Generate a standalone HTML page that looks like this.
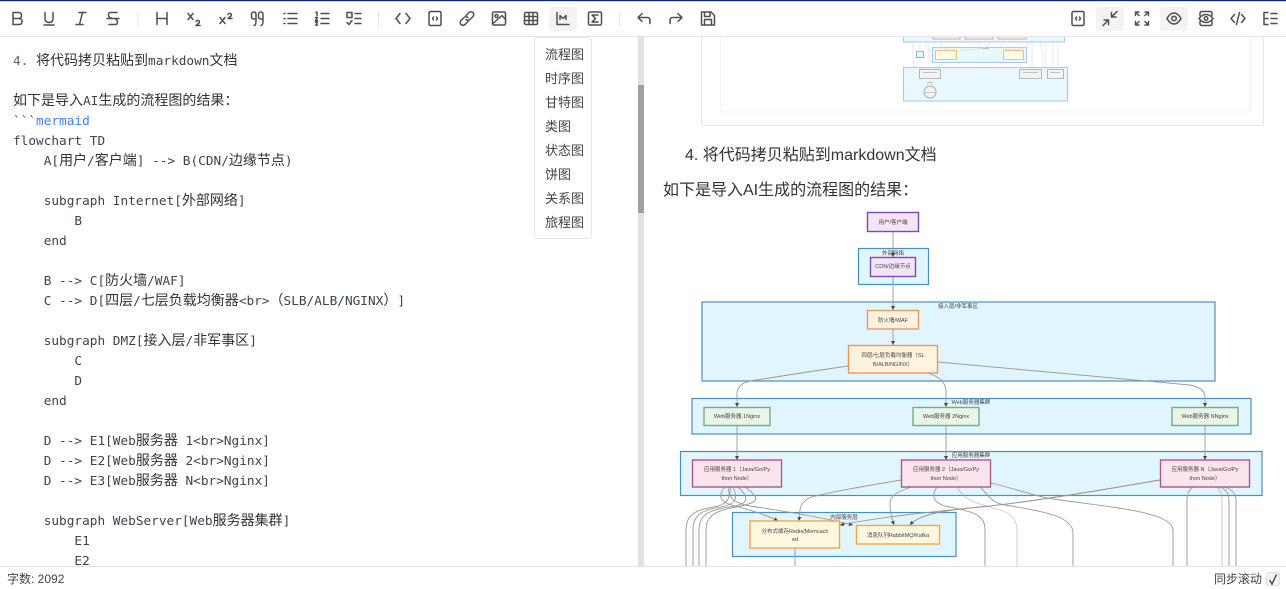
<!DOCTYPE html>
<html lang="zh"><head><meta charset="utf-8"><title>Markdown Editor</title>
<style>
html,body{margin:0;padding:0;background:#fff}
body{position:relative;width:1286px;height:589px;overflow:hidden;font-family:"Liberation Sans","Noto Sans CJK SC",sans-serif;color:#333}
.l{position:absolute;left:13px;height:20px;line-height:20px;white-space:pre;font-family:"DejaVu Sans Mono","Liberation Mono","Noto Sans CJK SC",monospace;font-size:12.75px;color:#3b4450;text-spacing-trim:space-all}
.l b{font-weight:400;font-size:14px;font-family:"Noto Sans CJK SC",sans-serif;color:#333}
.l b.w{display:inline-block;width:14px}
.l i{font-style:normal;color:#3b82f6}
.m{position:absolute;left:545px;font-size:13px;line-height:18px;color:#444}
.p{position:absolute;font-size:16px;line-height:22px;color:#333;white-space:pre}
svg{position:absolute;left:0;top:0}
svg text{font-family:"Liberation Sans","Noto Sans CJK SC",sans-serif;font-size:5.5px;fill:#444;text-anchor:middle}
.ic *{fill:none;stroke:#4f4f4f;stroke-width:1.5;stroke-linecap:round;stroke-linejoin:round}
.e path{fill:none;stroke:#999;stroke-width:.9}
.ar path{marker-end:url(#a)}
.cl{fill:#e1f5fe;stroke:#4a8fc0;stroke-width:1.2}
.n rect{stroke-width:1.4}
</style></head><body>

<div class="l" style="top:50px"><span style="color:#4a6785">4.</span> <b>将代码拷贝粘贴到</b>markdown<b>文档</b></div>
<div class="l" style="top:90px"><b>如下是导入</b>AI<b>生成的流程图的结果：</b></div>
<div class="l" style="top:112px">&#96;&#96;&#96;<i>mermaid</i></div>
<div class="l" style="top:132px">flowchart TD</div>
<div class="l" style="top:150px">    A[<b>用户</b>/<b>客户端</b>] --&gt; B(CDN/<b>边缘节点</b>)</div>
<div class="l" style="top:190px">    subgraph Internet[<b>外部网络</b>]</div>
<div class="l" style="top:212px">        B</div>
<div class="l" style="top:232px">    end</div>
<div class="l" style="top:270px">    B --&gt; C[<b>防火墙</b>/WAF]</div>
<div class="l" style="top:290px">    C --&gt; D[<b>四层</b>/<b>七层负载均衡器</b>&lt;br&gt;<b class="w">（</b>SLB/ALB/NGINX<b class="w">）</b>]</div>
<div class="l" style="top:330px">    subgraph DMZ[<b>接入层</b>/<b>非军事区</b>]</div>
<div class="l" style="top:352px">        C</div>
<div class="l" style="top:372px">        D</div>
<div class="l" style="top:392px">    end</div>
<div class="l" style="top:430px">    D --&gt; E1[Web<b>服务器</b> 1&lt;br&gt;Nginx]</div>
<div class="l" style="top:450px">    D --&gt; E2[Web<b>服务器</b> 2&lt;br&gt;Nginx]</div>
<div class="l" style="top:470px">    D --&gt; E3[Web<b>服务器</b> N&lt;br&gt;Nginx]</div>
<div class="l" style="top:510px">    subgraph WebServer[Web<b>服务器集群</b>]</div>
<div class="l" style="top:532px">        E1</div>
<div class="l" style="top:552px">        E2</div>

<div class="p" style="left:685px;top:145px">4. 将代码拷贝粘贴到markdown文档</div>
<div class="p" style="left:663px;top:180px">如下是导入AI生成的流程图的结果：</div>

<svg width="1286" height="589" viewBox="0 0 1286 589">
<defs><marker id="a" markerWidth="5" markerHeight="5" refX="4" refY="2" orient="auto" markerUnits="userSpaceOnUse"><path d="M0,0L4,2L0,4Z" fill="#444"/></marker></defs>

<!-- thumbnail at top of preview -->
<rect x="701.500" y="20" width="562" height="105.500" rx="3" fill="none" stroke="#e6e6e6"/>
<rect x="720.500" y="20" width="530" height="92" rx="3" fill="none" stroke="#f2f2f2"/>
<g opacity=".7">
<rect x="903.500" y="30" width="161" height="12" fill="#e1f5fe" stroke="#7db8dc"/>
<rect x="933" y="30" width="27" height="9" fill="#fce4ec" stroke="#c47fa8"/><rect x="965" y="30" width="28" height="9" fill="#fce4ec" stroke="#c47fa8"/><rect x="998" y="30" width="28" height="9" fill="#fce4ec" stroke="#c47fa8"/>
<rect x="932.500" y="47.500" width="94" height="15" fill="#e1f5fe" stroke="#7db8dc"/>
<rect x="935.500" y="50.500" width="21" height="9" fill="#fff8e1" stroke="#f5a54a"/><rect x="1003.500" y="50.500" width="20" height="9" fill="#fff8e1" stroke="#f5a54a"/>
<rect x="916.500" y="51.500" width="7" height="6" fill="#e1f5fe" stroke="#5c9fcc"/>
<rect x="903.500" y="67.500" width="164" height="33.500" fill="#e1f5fe" stroke="#7db8dc"/>
<rect x="919.500" y="69.500" width="21" height="9" fill="#eee" stroke="#999"/><rect x="1019.500" y="69.500" width="22" height="9" fill="#eee" stroke="#999"/><rect x="1047.500" y="69.500" width="16" height="9" fill="#eee" stroke="#999"/>
<ellipse cx="930" cy="92" rx="6" ry="6" fill="#eee" stroke="#888"/>
<g fill="none" stroke="#ccc" stroke-width=".6"><path d="M913,42V62Q913,68 925,69M920,42V50M926,42V46Q926,50 936,50M929,42V69M940,42Q942,50 950,50M952,42V50M990,42V44Q985,50 960,50M1000,42Q1002,50 1012,50M1028,42V46Q1020,50 1010,50M1032,42V69M1040,42Q1043,50 1043,69M1046,42V69M1053,42V69M1058,42V69M930,78V86"/></g>
<g fill="#aaa"><rect x="923" y="72" width="14" height="1"/><rect x="1023" y="72" width="15" height="1"/><rect x="1050" y="72" width="10" height="1"/><rect x="925" y="92" width="10" height="1"/><rect x="982" y="48" width="7" height="1"/><rect x="927" y="82" width="6" height="1"/><rect x="983" y="67" width="4" height="1"/></g>
</g>

<!-- main flowchart -->
<rect class="cl" x="858.500" y="248.500" width="70" height="36"/>
<rect class="cl" x="702" y="302" width="513" height="79"/>
<rect class="cl" x="692" y="398.500" width="559" height="35.500"/>
<rect class="cl" x="680.500" y="451.500" width="581.500" height="44"/>
<rect class="cl" x="732.500" y="512.500" width="223.500" height="44"/>

<g class="e">
<g class="ar">
<path d="M893,231V257"/><path d="M893,276V310"/><path d="M893,329V345"/>
<path d="M848,366C800,373 770,378 750,381Q737,384 737,394V407"/>
<path d="M927,373Q946,378 946,392V407"/>
<path d="M938,362C1050,372 1130,380 1190,385Q1205,388 1205,397V407"/>
<path d="M737,425V460"/><path d="M946,425V460"/><path d="M1205,425V460"/>
<path d="M725,487C716,497 722,503 735,506C750,510 768,515 778,521"/>
<path d="M731,487C727,499 735,503 750,506C790,512 825,518 853,525"/>
<path d="M901,480C860,487 830,492 812,497Q801,501 800,510L799,521"/>
<path d="M912,487Q890,493 890,503Q890,513 894,525"/>
<path d="M1160,480C1090,492 1030,502 980,507C930,512 880,517 840,525"/>
<path d="M1160,480C1090,492 1030,502 980,507C950,510 920,513 910,525"/>
</g>
<path d="M745,487C756,495 762,501 745,505C725,510 706,510 706,530V566"/>
<path d="M738,487C750,498 748,503 735,506C712,510 699,512 699,530V566"/>
<path d="M733,487C738,498 736,503 725,506C705,510 693,512 693,530V566"/>
<path d="M728,487C731,498 728,503 718,506C698,510 686,512 686,530V566"/>
<path d="M937,487C930,497 935,503 945,506C975,512 985,515 985,530V566"/>
<path d="M957,487C965,503 985,505 1000,510Q1017,515 1017,530V566" stroke-opacity=".5"/>
<path d="M980,487C990,497 992,503 1005,505C1050,512 1073,518 1073,533V566"/>
<path d="M991,483C1020,490 1040,498 1060,500C1110,507 1173,512 1173,530V566"/>
<path d="M1193,487Q1187,491 1187,500V566"/>
<path d="M1217,487Q1222,491 1222,500V566" stroke-opacity=".6"/>
<path d="M1220,487Q1229,491 1229,500V566"/>
<path d="M1225,487Q1236,491 1236,500V566"/>
<path d="M795,548V566"/>
</g>

<g class="n">
<rect x="867.500" y="212.500" width="51" height="19" fill="#f3e5f5" stroke="#7b4bb0"/>
<rect x="870.500" y="257.500" width="45" height="19" fill="#f3e5f5" stroke="#7b4bb0"/>
<rect x="867.500" y="310.500" width="51" height="18.500" fill="#fff3e0" stroke="#ea9a5f"/>
<rect x="848.500" y="345.500" width="89" height="27.500" fill="#fff3e0" stroke="#ea9a5f"/>
<rect x="704" y="407.500" width="66" height="18" fill="#e8f5e9" stroke="#7ba888"/>
<rect x="913" y="407.500" width="66" height="18" fill="#e8f5e9" stroke="#7ba888"/>
<rect x="1172" y="407.500" width="66" height="18" fill="#e8f5e9" stroke="#7ba888"/>
<rect x="692.500" y="460" width="89" height="27" fill="#fce4ec" stroke="#b0578c"/>
<rect x="901.500" y="460" width="89" height="27" fill="#fce4ec" stroke="#b0578c"/>
<rect x="1160.500" y="460" width="89" height="27" fill="#fce4ec" stroke="#b0578c"/>
<rect x="750" y="521" width="89.500" height="27" fill="#fff8e1" stroke="#f5a54a"/>
<rect x="856.500" y="525.500" width="83" height="18.500" fill="#fff8e1" stroke="#f5a54a"/>
</g>

<text x="893" y="224">用户/客户端</text>
<text x="893" y="268">CDN/边缘节点</text>
<text x="893" y="322">防火墙/WAF</text>
<text x="893" y="357">四层/七层负载均衡器（SL</text><text x="893" y="366">B/ALB/NGINX）</text>
<text x="737" y="418">Web服务器 1Nginx</text><text x="946" y="418">Web服务器 2Nginx</text><text x="1205" y="418">Web服务器 NNginx</text>
<text x="737" y="471">应用服务器 1（Java/Go/Py</text><text x="737" y="480">thon Node）</text>
<text x="946" y="471">应用服务器 2（Java/Go/Py</text><text x="946" y="480">thon Node）</text>
<text x="1205" y="471">应用服务器 N（Java/Go/Py</text><text x="1205" y="480">thon Node）</text>
<text x="795" y="533">分布式缓存Redis/Memcach</text><text x="795" y="541">ed</text>
<text x="898" y="537">消息队列RabbitMQ/Kafka</text>
<text x="893" y="255">外部网络</text>
<text x="958" y="308">接入层/非军事区</text>
<text x="971" y="404">Web服务器集群</text>
<text x="971" y="457">应用服务器集群</text>
<text x="844" y="519">内部服务层</text>

<!-- toolbar -->
<rect x="0" y="0" width="1286" height="36.500" fill="#fff"/>
<rect x="0" y="0" width="1286" height="1.200" fill="#0b2a6f"/>
<rect x="0" y="36" width="1286" height="1" fill="#e5e5e5"/>
<rect x="549" y="7" width="28" height="24" rx="3" fill="#f3f3f3"/>
<rect x="1096" y="7" width="28" height="24" rx="3" fill="#f3f3f3"/>
<rect x="1160" y="7" width="28" height="24" rx="3" fill="#f3f3f3"/>
<rect x="137.500" y="12" width="1" height="15" fill="#e5e5e5"/><rect x="378" y="12" width="1" height="15" fill="#e5e5e5"/><rect x="619" y="12" width="1" height="15" fill="#e5e5e5"/>

<g class="ic">
<g transform="translate(17,18.500)"><path d="M-4,-6V6M-4,-6H1.500Q4.500,-6 4.500,-3Q4.500,0 1.500,0H-4M1.500,0H2Q5,0 5,3Q5,6 2,6H-4"/></g>
<g transform="translate(49,18.500)"><path d="M-4,-6V0Q-4,4 0,4Q4,4 4,0V-6M-5,6.500H5"/></g>
<g transform="translate(81,18.500)"><path d="M-2,-6H5M-5,6H2M1.500,-6L-1.500,6"/></g>
<g transform="translate(113,18.500)"><path d="M4,-6H-3Q-4.500,-6 -4.500,-3.500Q-4.500,-1 -2,-.5M-6,0H6M3,1Q4.500,2 4.500,4Q4.500,6 2,6H-4"/></g>
<g transform="translate(162,18.500)"><path d="M-5,-6V6M5,-6V6M-5,0H5"/></g>
<g transform="translate(194,18.500)"><path d="M-6,-5L-1,1M-1,-5L-6,1M2,3Q3,1.500 4.500,2Q6,3 5,4.500L2,7H6"/></g>
<g transform="translate(226,18.500)"><path d="M-6,-1L-1,5M-1,-1L-6,5M2,-4Q3,-5.500 4.500,-5Q6,-4 5,-2.500L2,0H6"/></g>
<g transform="translate(258,18.500)"><path d="M-4,7Q-2,7 -2,2V-4Q-2,-6.500 -4,-6.500Q-6.500,-6.500 -6.500,-4V-2Q-6.500,.5 -4,.5H-2M3,7Q5,7 5,2V-4Q5,-6.500 3,-6.500Q.5,-6.500 .5,-4V-2Q.5,.5 3,.5H5"/></g>
<g transform="translate(290,18.500)"><path d="M-2,-5H7M-2,0H7M-2,5H7M-6,-5H-5M-6,0H-5M-6,5H-5"/></g>
<g transform="translate(322,18.500)"><path d="M-1,-5H7M-1,0H7M-1,5H7M-6,-6L-5,-6.500V-3M-6.500,-1H-4.500L-6.500,2H-4.500M-6.500,3.500H-4.500L-5.500,5L-4.500,6.500H-6.500"/></g>
<g transform="translate(354,18.500)"><path d="M-7,-6H-2V-1H-7ZM1,-5H7M1,0H7M1,5H7M-7,4L-5,6L-2,2"/></g>
<g transform="translate(403,18.500)"><path d="M-3,-5L-7,0L-3,5M3,-5L7,0L3,5"/></g>
<g transform="translate(435,18.500)"><rect x="-6" y="-7" width="12" height="14" rx="1.500"/><path d="M-1.500,-1.500L-2.500,0L-1.500,1.500M1.500,-1.500L2.500,0L1.500,1.500"/></g>
<g transform="translate(467,18.500)"><path d="M-1,-3L2,-6Q4,-7.500 6,-6Q7.500,-4 6,-2L3,1Q1,2.500 -1,1M1,3L-2,6Q-4,7.500 -6,6Q-7.500,4 -6,2L-3,-1Q-1,-2.500 1,-1"/></g>
<g transform="translate(499,18.500)"><rect x="-6.500" y="-6.500" width="13" height="13" rx="1.500"/><circle cx="-2.500" cy="-2.500" r="1.500"/><path d="M-6,5L3,-3L6.500,1"/></g>
<g transform="translate(531,18.500)"><rect x="-6.500" y="-6" width="13" height="12" rx="1.500"/><path d="M-6.500,-2H6.500M-6.500,2H6.500M-2,-6V6M2,-6V6"/></g>
<g transform="translate(563,18.500)"><path d="M-6,-6V6H6M-3,1V-3L0,0L3,-3V1"/></g>
<g transform="translate(595,18.500)"><rect x="-6.500" y="-6.500" width="13" height="13" rx="1.500"/><path d="M3,-3.500H-3L0.500,0L-3,3.500H3"/></g>
<g transform="translate(644,18.500)"><path d="M-2,-5L-6,-1L-2,3M-6,-1H3Q6,-1 6,2V5"/></g>
<g transform="translate(676,18.500)"><path d="M2,-5L6,-1L2,3M6,-1H-3Q-6,-1 -6,2V5"/></g>
<g transform="translate(708,18.500)"><path d="M-6.500,-6.500H3L6.500,-3V6.500H-6.500ZM-3.500,-6.500V-2H2V-6.500M-3.500,6.500V1H3.500V6.500"/></g>
<g transform="translate(1078,18.500)"><rect x="-6" y="-7" width="12" height="14" rx="1.500"/><path d="M-1.500,-1.500L-2.500,0L-1.500,1.500M1.500,-1.500L2.500,0L1.500,1.500"/></g>
<g transform="translate(1110,18.500)"><path d="M7,-7L1.500,-1.500M1.500,-6V-1.500H6M-7,7L-1.500,1.500M-6,1.500H-1.500V6"/></g>
<g transform="translate(1142,18.500)"><path d="M-6.500,-3V-6.500H-3M-6.500,-6.500L-3,-3M6.500,-3V-6.500H3M6.500,-6.500L3,-3M-6.500,3V6.500H-3M-6.500,6.500L-3,3M6.500,3V6.500H3M6.500,6.500L3,3"/></g>
<g transform="translate(1174,18.500)"><path d="M-7,0Q-4,-5.500 0,-5.500Q4,-5.500 7,0Q4,5.500 0,5.500Q-4,5.500 -7,0Z"/><circle r="2.300"/></g>
<g transform="translate(1206,18.500)"><path d="M-6,-3V-5Q-6,-7 -4,-7H4Q6,-7 6,-5V-3M-6,3V5Q-6,7 -4,7H4Q6,7 6,5V3M-7,0Q-4,-4 0,-4Q4,-4 7,0Q4,4 0,4Q-4,4 -7,0Z"/><circle r="1.800"/></g>
<g transform="translate(1238,18.500)"><path d="M-3.500,-4L-7,0L-3.500,4M3.500,-4L7,0L3.500,4M1.500,-6L-1.500,6"/></g>
<g transform="translate(1270,18.500)"><path d="M-6,-6V6M-6,-6H-2M-6,0H-2M-6,6H-2M1,-5H7M1,0H7M1,5H7"/></g>
</g>

<!-- scrollbar -->
<rect x="638" y="37" width="6" height="529" fill="#e2e2e2"/>
<rect x="638" y="85" width="6" height="128" fill="#a0a0a0"/>

<!-- dropdown -->
<rect x="534.500" y="37.500" width="57" height="201" rx="3" fill="#fff" stroke="#e6e6e6"/>

<!-- status bar -->
<rect x="0" y="566" width="1286" height="23" fill="#fff"/>
<rect x="0" y="566" width="1286" height="1" fill="#e3e3e3"/>
<rect x="1266.500" y="572.500" width="13" height="13" rx="2" fill="#f0f0f0" stroke="#e0e0e0"/>
<path d="M1269.500,580L1272,584L1276.500,574.500" fill="none" stroke="#3f4a5a" stroke-width="1.400"/>
</svg>

<div class="m" style="top:46px">流程图</div>
<div class="m" style="top:70px">时序图</div>
<div class="m" style="top:94px">甘特图</div>
<div class="m" style="top:118px">类图</div>
<div class="m" style="top:142px">状态图</div>
<div class="m" style="top:166px">饼图</div>
<div class="m" style="top:190px">关系图</div>
<div class="m" style="top:214px">旅程图</div>

<div style="position:absolute;left:7px;top:571px;font-size:12px;line-height:16px;color:#444">字数: 2092</div>
<div style="position:absolute;left:1214px;top:571px;font-size:12px;line-height:16px;color:#444">同步滚动</div>
</body></html>
